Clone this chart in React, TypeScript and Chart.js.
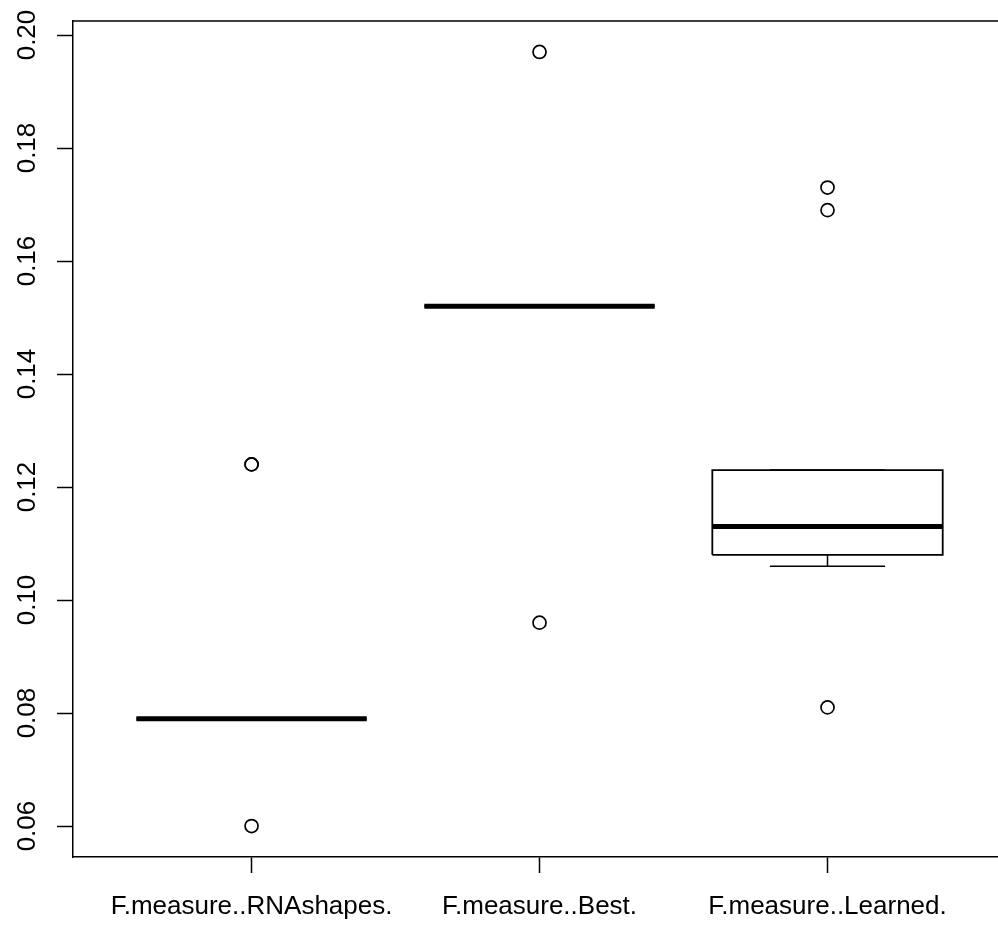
import React, { useEffect, useRef } from "react";
import { Chart, registerables } from "chart.js";

Chart.register(...registerables);

const categories = ["F.measure..RNAshapes.", "F.measure..Best.", "F.measure..Learned."];
const medians = [0.079, 0.152, 0.113];
const q1s = [0.079, 0.152, 0.108];
const q3s = [0.079, 0.152, 0.123];
const whiskerLows = [0.079, 0.152, 0.106];
const whiskerHighs = [0.079, 0.152, 0.123];
const outliers = [
  [0.124, 0.124, 0.06],
  [0.197, 0.096],
  [0.173, 0.169, 0.081],
];
const yTickValues = [0.06, 0.08, 0.1, 0.12, 0.14, 0.16, 0.18, 0.2];

const FONT = "'Liberation Sans', Arial, Helvetica, sans-serif";

export default function App() {
  const ref = useRef<HTMLCanvasElement | null>(null);

  useEffect(() => {
    if (!ref.current) return;
    const datasets: any[] = [];
    const lineBase = {
      type: "line",
      showLine: true,
      pointRadius: 0,
      borderColor: "#000",
      backgroundColor: "transparent",
      fill: false,
      tension: 0,
    };
    categories.forEach((_, i) => {
      const c = i + 1;
      const hw = 0.4;
      const cw = 0.2;
      // whiskers
      datasets.push({ ...lineBase, borderWidth: 1.5, borderDash: [5, 5], data: [{ x: c, y: q3s[i] }, { x: c, y: whiskerHighs[i] }] });
      datasets.push({ ...lineBase, borderWidth: 1.5, data: [{ x: c, y: q1s[i] }, { x: c, y: whiskerLows[i] }] });
      // caps
      datasets.push({ ...lineBase, borderWidth: 1.5, data: [{ x: c - cw, y: whiskerHighs[i] }, { x: c + cw, y: whiskerHighs[i] }] });
      datasets.push({ ...lineBase, borderWidth: 1.5, data: [{ x: c - cw, y: whiskerLows[i] }, { x: c + cw, y: whiskerLows[i] }] });
      // box
      datasets.push({
        ...lineBase,
        borderWidth: 1.8,
        data: [
          { x: c - hw, y: q1s[i] },
          { x: c + hw, y: q1s[i] },
          { x: c + hw, y: q3s[i] },
          { x: c - hw, y: q3s[i] },
          { x: c - hw, y: q1s[i] },
        ],
      });
      // median
      datasets.push({ ...lineBase, borderWidth: 5, data: [{ x: c - hw, y: medians[i] }, { x: c + hw, y: medians[i] }] });
      // outliers
      datasets.push({
        type: "scatter",
        showLine: false,
        pointRadius: 6.5,
        pointStyle: "circle",
        borderColor: "#000",
        backgroundColor: "transparent",
        borderWidth: 1.7,
        data: outliers[i].map((v) => ({ x: c, y: v })),
      });
    });

    const framePlugin = {
      id: "frameAndLabels",
      afterDraw(chart: any) {
        const { ctx, chartArea, scales } = chart;
        ctx.save();
        ctx.strokeStyle = "#000";
        ctx.lineWidth = 1.5;
        ctx.beginPath();
        ctx.moveTo(chartArea.left, chartArea.top);
        ctx.lineTo(chartArea.right + 2, chartArea.top);
        ctx.stroke();
        const y = scales.y;
        ctx.fillStyle = "#000";
        ctx.font = `26px ${FONT}`;
        ctx.textAlign = "center";
        ctx.textBaseline = "alphabetic";
        y.ticks.forEach((t: any) => {
          const py = y.getPixelForValue(t.value);
          ctx.save();
          ctx.translate(35, py);
          ctx.rotate(-Math.PI / 2);
          ctx.fillText(Number(t.value).toFixed(2), 0, 0);
          ctx.restore();
        });
        ctx.restore();
      },
    };

    const chart = new Chart(ref.current, {
      type: "scatter",
      data: { datasets },
      options: {
        animation: false,
        responsive: false,
        layout: { autoPadding: false, padding: { top: 21, left: 0, right: 0, bottom: 0 } },
        plugins: { legend: { display: false }, tooltip: { enabled: false } },
        scales: {
          x: {
            type: "linear",
            min: 0.38,
            max: 3.592,
            afterBuildTicks: (scale: any) => {
              scale.ticks = categories.map((_, i) => ({ value: i + 1 }));
            },
            afterFit: (scale: any) => {
              scale.height = 69;
            },
            grid: { drawOnChartArea: false, drawTicks: true, tickLength: 16, tickColor: "#000", tickWidth: 1.5 },
            border: { display: true, color: "#000", width: 1.5 },
            ticks: {
              autoSkip: false,
              maxRotation: 0,
              minRotation: 0,
              padding: 18,
              color: "#000",
              font: { family: FONT, size: 26 },
              callback: (v: any) => categories[Math.round(Number(v)) - 1] ?? "",
            },
          },
          y: {
            type: "linear",
            min: 0.05452,
            max: 0.20248,
            afterBuildTicks: (scale: any) => {
              scale.ticks = yTickValues.map((v) => ({ value: v }));
            },
            afterFit: (scale: any) => {
              scale.width = 73;
            },
            grid: { drawOnChartArea: false, drawTicks: true, tickLength: 16, tickColor: "#000", tickWidth: 1.5 },
            border: { display: true, color: "#000", width: 1.5 },
            ticks: { display: false },
          },
        },
      },
      plugins: [framePlugin],
    } as any);
    return () => chart.destroy();
  }, []);

  return (
    <div style={{ position: "absolute", left: 0, top: 0, width: 998, height: 926, background: "#fff" }}>
      <canvas ref={ref} width={998} height={926} />
    </div>
  );
}
